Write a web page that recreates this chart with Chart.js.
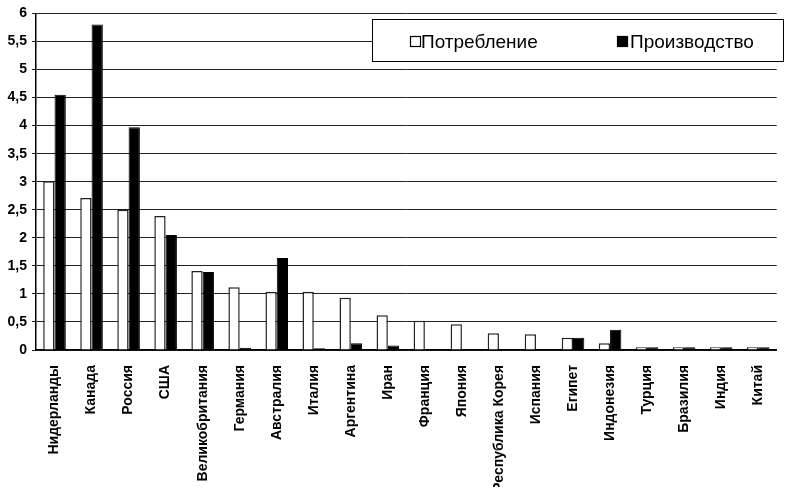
<!DOCTYPE html>
<html>
<head>
<meta charset="utf-8">
<script src="https://cdn.jsdelivr.net/npm/chart.js@4.4.1/dist/chart.umd.min.js"></script>
<style>
  html, body { margin: 0; padding: 0; background: #fff; overflow: hidden; }
  #wrap { position: relative; width: 790px; height: 487px; }
</style>
</head>
<body>
<div id="wrap"><canvas id="c"></canvas></div>
<script>
const categories = ['Нидерланды', 'Канада', 'Россия', 'США', 'Великобритания', 'Германия', 'Австралия', 'Италия', 'Аргентина', 'Иран', 'Франция', 'Япония', 'Республика Корея', 'Испания', 'Египет', 'Индонезия', 'Турция', 'Бразилия', 'Индия', 'Китай'];
const consumption = [3.01, 2.71, 2.50, 2.39, 1.41, 1.12, 1.04, 1.04, 0.93, 0.62, 0.52, 0.46, 0.30, 0.28, 0.22, 0.12, 0.05, 0.05, 0.05, 0.05];
const production = [4.55, 5.80, 3.97, 2.05, 1.39, 0.04, 1.64, 0.03, 0.12, 0.08, null, null, null, null, 0.22, 0.36, 0.05, 0.05, 0.05, 0.05];
const seriesNames = ['Потребление', 'Производство'];
const yTickLabels = ['0', '0,5', '1', '1,5', '2', '2,5', '3', '3,5', '4', '4,5', '5', '5,5', '6'];

Chart.defaults.font.family = '"Liberation Sans", Arial, sans-serif';
Chart.defaults.color = '#000';

const boxLegend = {
  id: 'boxLegend',
  afterDraw(chart) {
    const ctx = chart.ctx;
    ctx.save();
    const x0 = 372.5, y0 = 19.5, w = 411, h = 42;
    ctx.fillStyle = '#fff';
    ctx.fillRect(x0, y0, w, h);
    ctx.strokeStyle = '#000';
    ctx.lineWidth = 1;
    ctx.strokeRect(x0, y0, w, h);
    ctx.font = '19px "Liberation Sans", Arial, sans-serif';
    ctx.textBaseline = 'middle';
    ctx.textAlign = 'left';
    const items = [
      { x: 410, tx: 421, fill: '#fff', label: chart.data.datasets[0].label },
      { x: 617, tx: 630, fill: '#000', label: chart.data.datasets[1].label }
    ];
    const cy = 42;
    items.forEach(it => {
      ctx.fillStyle = it.fill;
      ctx.fillRect(it.x + 0.5, cy - 5.5, 10, 10);
      ctx.strokeStyle = '#000';
      ctx.lineWidth = 1.2;
      ctx.strokeRect(it.x + 0.5, cy - 5.5, 10, 10);
      ctx.fillStyle = '#000';
      ctx.fillText(it.label, it.tx, cy + 1);
    });
    ctx.restore();
  }
};

new Chart(document.getElementById('c'), {
  type: 'bar',
  data: {
    labels: categories,
    datasets: [
      {
        label: seriesNames[0],
        data: consumption,
        backgroundColor: '#fff',
        borderColor: '#222',
        borderWidth: 1.5,
        categoryPercentage: 0.61,
        barPercentage: 1.0
      },
      {
        label: seriesNames[1],
        data: production,
        backgroundColor: '#000',
        borderColor: '#000',
        borderWidth: 1,
        categoryPercentage: 0.61,
        barPercentage: 1.0
      }
    ]
  },
  options: {
    responsive: true,
    maintainAspectRatio: false,
    animation: false,
    layout: { padding: { top: 8, right: 0, left: 0, bottom: 0 } },
    plugins: {
      legend: { display: false },
      tooltip: { enabled: false }
    },
    scales: {
      x: {
        grid: { display: false, drawTicks: false },
        border: { display: true, color: '#000', width: 1.5 },
        ticks: {
          autoSkip: false,
          maxRotation: 90,
          minRotation: 90,
          padding: 15,
          font: { size: 14, weight: 'bold' },
          color: '#000'
        },
        afterFit(scale) { scale.height = 137; }
      },
      y: {
        min: 0,
        max: 6,
        ticks: {
          stepSize: 0.5,
          padding: 5,
          font: { size: 14, weight: 'bold' },
          color: '#000',
          callback: (v, i) => yTickLabels[i]
        },
        grid: { color: '#222', lineWidth: 1, tickLength: 4, drawTicks: true },
        border: { display: true, color: '#000', width: 1.5 },
        afterFit(scale) { scale.width = 36; }
      }
    }
  },
  plugins: [boxLegend]
});
</script>
</body>
</html>
